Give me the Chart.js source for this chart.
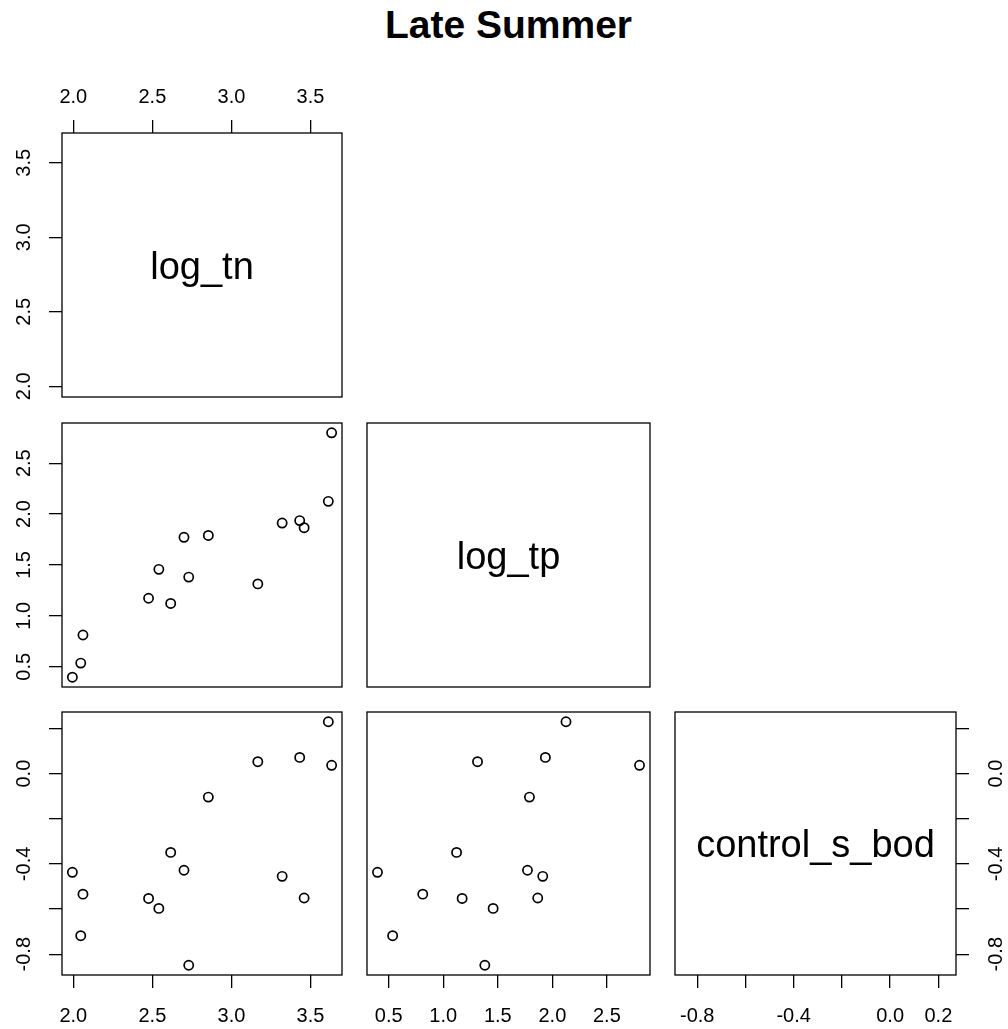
<!DOCTYPE html>
<html>
<head>
<meta charset="utf-8">
<script src="https://cdn.jsdelivr.net/npm/chart.js@4.4.1/dist/chart.umd.min.js"></script>
<style>
  body { margin: 0; background: #fff; }
  #folha { position: relative; width: 1008px; height: 1029px; overflow: hidden; background: #fff; }
  #folha canvas { position: absolute; left: 0; top: 0; }
  #titulo { position: absolute; left: 0; top: 5px; width: 1017px; text-align: center;
            font: bold 39px "Liberation Sans", Arial, sans-serif; line-height: 39px; color: #000; }
</style>
</head>
<body>
<div id="folha">
  <div id="titulo">Late Summer</div>
  <canvas id="p11" width="1008" height="1029"></canvas>
  <canvas id="p21" width="1008" height="1029"></canvas>
  <canvas id="p22" width="1008" height="1029"></canvas>
  <canvas id="p31" width="1008" height="1029"></canvas>
  <canvas id="p32" width="1008" height="1029"></canvas>
  <canvas id="p33" width="1008" height="1029"></canvas>
</div>
<script>
// variables of the pairs plot
const variaveis = ['log_tn', 'log_tp', 'control_s_bod'];

// values (same order in every array)
const logTn = [1.994, 2.047, 2.061, 2.476, 2.541, 2.616, 2.700, 2.730, 2.854, 3.167, 3.321, 3.432, 3.460, 3.613, 3.634];
const logTp = [0.397, 0.536, 0.812, 1.173, 1.457, 1.122, 1.772, 1.381, 1.790, 1.314, 1.912, 1.936, 1.866, 2.125, 2.799];
const controlSBod = [-0.437, -0.718, -0.534, -0.553, -0.597, -0.349, -0.428, -0.849, -0.104, 0.053, -0.455, 0.072, -0.551, 0.230, 0.037];

// tick marks and the ticks that get a label
const tnTicks = [2.0, 2.5, 3.0, 3.5];
const tpTicks = [0.5, 1.0, 1.5, 2.0, 2.5];
const bodTicks = [-0.8, -0.6, -0.4, -0.2, 0.0, 0.2];
const bodRotulosX = [-0.8, -0.4, 0.0, 0.2];
const bodRotulosY = [-0.8, -0.4, 0.0];

const FONTE = '"Liberation Sans", Arial, sans-serif';
const W = 1008, H = 1029;

// R extends the data range by 4% on each side
function faixa(v) {
  var mn = Math.min(...v), mx = Math.max(...v), d = (mx - mn) * 0.04;
  return [mn - d, mx + d];
}

function mesmo(a, b) { return Math.abs(a - b) < 1e-9; }

var moldura = {
  id: 'moldura',
  afterDraw(chart, args, opts) {
    var a = chart.chartArea, ctx = chart.ctx;
    ctx.save();
    ctx.strokeStyle = '#000';
    ctx.lineWidth = 1.3;
    ctx.strokeRect(a.left, a.top, a.right - a.left, a.bottom - a.top);
    ctx.fillStyle = '#000';
    if (opts.nome) {
      ctx.font = '38px ' + FONTE;
      ctx.textAlign = 'center';
      ctx.textBaseline = 'alphabetic';
      ctx.fillText(opts.nome, (a.left + a.right) / 2, (a.top + a.bottom) / 2 + 13.6);
    }
    if (opts.rotulosY) {
      var y = chart.scales.y;
      ctx.font = '20px ' + FONTE;
      ctx.textAlign = 'center';
      ctx.textBaseline = 'middle';
      var xr = opts.ladoY === 'right' ? a.right + 40 : a.left - 38;
      opts.rotulosY.forEach(function (v) {
        var py = y.getPixelForValue(v);
        ctx.save();
        ctx.translate(xr, py);
        ctx.rotate(-Math.PI / 2);
        ctx.fillText(v.toFixed(1), 0, 0);
        ctx.restore();
      });
    }
    ctx.restore();
  }
};

function marcas() {
  return { display: true, drawOnChartArea: false, drawTicks: true, tickLength: 13, color: '#000', lineWidth: 1.3 };
}

function criarPainel(id, caixa, xVals, yVals, px, py) {
  var xr = faixa(xVals), yr = faixa(yVals);
  var temX = !!px.lado, temY = !!py.lado;
  var xRot = px.rotulos || px.ticks;

  var escalaX = {
    type: 'linear',
    position: px.lado || 'bottom',
    display: temX,
    min: xr[0], max: xr[1],
    afterBuildTicks: function (s) { s.ticks = (px.ticks || []).map(function (v) { return { value: v }; }); },
    afterFit: function (s) { if (temX) s.height = 60; },
    ticks: {
      autoSkip: false, maxRotation: 0, minRotation: 0,
      padding: px.lado === 'top' ? 11 : 16,
      color: '#000', font: { family: FONTE, size: 20 },
      callback: function (v) {
        return xRot && xRot.some(function (r) { return mesmo(r, v); }) ? v.toFixed(1) : '';
      }
    },
    grid: marcas(),
    border: { display: false }
  };

  var escalaY = {
    type: 'linear',
    position: py.lado || 'left',
    display: temY,
    min: yr[0], max: yr[1],
    afterBuildTicks: function (s) { s.ticks = (py.ticks || []).map(function (v) { return { value: v }; }); },
    afterFit: function (s) { if (temY) s.width = 60; },
    ticks: { display: false },
    grid: marcas(),
    border: { display: false }
  };

  var pad = {
    left: caixa.l - (py.lado === 'left' ? 60 : 0),
    right: W - caixa.r - (py.lado === 'right' ? 60 : 0),
    top: caixa.t - (px.lado === 'top' ? 60 : 0),
    bottom: H - caixa.b - (px.lado === 'bottom' ? 60 : 0)
  };

  var pontos = px.nome ? [] : xVals.map(function (v, i) { return { x: v, y: yVals[i] }; });

  var ctx = document.getElementById(id).getContext('2d');
  return new Chart(ctx, {
    type: 'scatter',
    data: {
      datasets: [{
        data: pontos,
        pointStyle: 'circle',
        pointRadius: 4.6,
        pointHoverRadius: 4.6,
        borderWidth: 1.7,
        borderColor: '#000',
        backgroundColor: 'rgba(0,0,0,0)'
      }]
    },
    options: {
      responsive: false,
      animation: false,
      devicePixelRatio: 1,
      layout: { padding: pad },
      scales: { x: escalaX, y: escalaY },
      plugins: {
        legend: { display: false },
        tooltip: { enabled: false },
        moldura: { nome: px.nome || null, rotulosY: py.rotulos || null, ladoY: py.lado }
      }
    },
    plugins: [moldura]
  });
}

// diagonal: variable names
criarPainel('p11', { l: 62, t: 133, r: 342, b: 397 }, logTn, logTn,
  { lado: 'top', ticks: tnTicks, nome: variaveis[0] },
  { lado: 'left', ticks: tnTicks, rotulos: tnTicks });
criarPainel('p22', { l: 367, t: 423, r: 650, b: 687 }, logTp, logTp,
  { nome: variaveis[1] }, {});
criarPainel('p33', { l: 675, t: 712, r: 956, b: 975 }, controlSBod, controlSBod,
  { lado: 'bottom', ticks: bodTicks, rotulos: bodRotulosX, nome: variaveis[2] },
  { lado: 'right', ticks: bodTicks, rotulos: bodRotulosY });

// lower panels: scatter plots
criarPainel('p21', { l: 62, t: 423, r: 342, b: 687 }, logTn, logTp,
  {}, { lado: 'left', ticks: tpTicks, rotulos: tpTicks });
criarPainel('p31', { l: 62, t: 712, r: 342, b: 975 }, logTn, controlSBod,
  { lado: 'bottom', ticks: tnTicks }, { lado: 'left', ticks: bodTicks, rotulos: bodRotulosY });
criarPainel('p32', { l: 367, t: 712, r: 650, b: 975 }, logTp, controlSBod,
  { lado: 'bottom', ticks: tpTicks }, {});
</script>
</body>
</html>
